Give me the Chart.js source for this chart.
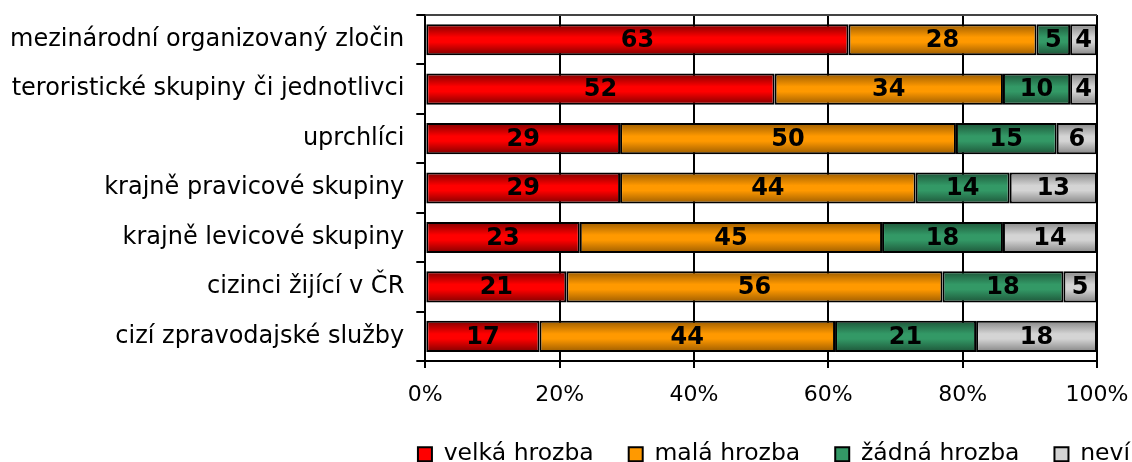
<!DOCTYPE html>
<html>
<head>
<meta charset="utf-8">
<script src="https://cdn.jsdelivr.net/npm/chart.js@4"></script>
<style>
  body { margin: 0; background: #fff; }
  #wrap { width: 1132px; height: 462px; }
</style>
</head>
<body>
<div id="wrap"><canvas id="chartContainer"></canvas></div>
<script>
// kategorie (shora dolů)
const categories = [
    'mezinárodní organizovaný zločin',
    'teroristické skupiny či jednotlivci',
    'uprchlíci',
    'krajně pravicové skupiny',
    'krajně levicové skupiny',
    'cizinci žijící v ČR',
    'cizí zpravodajské služby'
];

// hodnoty v %
const velkaHrozba = [63, 52, 29, 29, 23, 21, 17];
const malaHrozba = [28, 34, 50, 44, 45, 56, 44];
const zadnaHrozba = [5, 10, 15, 14, 18, 18, 21];
const nevi = [4, 4, 6, 13, 14, 5, 18];

const seriesNames = ['velká hrozba', 'malá hrozba', 'žádná hrozba', 'neví'];
const xTicks = [0, 20, 40, 60, 80, 100];

// barvy: střed a okraj (přechod)
const colors = [
    { mid: '#ff0000', edge: '#800000' },
    { mid: '#ff9900', edge: '#9c5c00' },
    { mid: '#339966', edge: '#1d5539' },
    { mid: '#d4d4d4', edge: '#858585' }
];

const catPct = 0.63;
const FONT = "'DejaVu Sans', Verdana, sans-serif";

// svislý přechod pro každý pruh
function barGradient(ctx, c) {
    const chart = ctx.chart;
    const y = chart.scales.y;
    if (!chart.chartArea || !y || ctx.dataIndex === undefined) return c.mid;
    const center = y.getPixelForValue(ctx.dataIndex);
    const half = (y.height / categories.length) * catPct / 2;
    const g = chart.ctx.createLinearGradient(0, center - half, 0, center + half);
    g.addColorStop(0, c.edge);
    g.addColorStop(0.42, c.mid);
    g.addColorStop(0.58, c.mid);
    g.addColorStop(1, c.edge);
    return g;
}

// popisky hodnot uvnitř pruhů
const valueLabels = {
    id: 'valueLabels',
    afterDatasetsDraw(chart) {
        const ctx = chart.ctx;
        ctx.save();
        ctx.font = 'bold 24px ' + FONT;
        ctx.fillStyle = '#000';
        ctx.textAlign = 'center';
        ctx.textBaseline = 'middle';
        chart.data.datasets.forEach((ds, i) => {
            const meta = chart.getDatasetMeta(i);
            meta.data.forEach((el, j) => {
                const cx = (el.x + el.base) / 2;
                ctx.fillText(ds.data[j], cx, el.y + 1);
            });
        });
        ctx.restore();
    }
};

// horní okraj plochy grafu
const topBorder = {
    id: 'topBorder',
    afterDraw(chart) {
        const a = chart.chartArea;
        const ctx = chart.ctx;
        ctx.save();
        ctx.strokeStyle = '#444';
        ctx.lineWidth = 2;
        ctx.beginPath();
        ctx.moveTo(a.left, a.top);
        ctx.lineTo(a.right, a.top);
        ctx.stroke();
        ctx.restore();
    }
};

// legenda zarovnaná k pravému okraji obrázku
const legendShift = {
    id: 'legendShift',
    beforeDraw(chart) {
        const lg = chart.legend;
        if (!lg) return;
        lg.right = chart.width - 2 + lg.options.labels.padding;
    }
};

const allSeries = [velkaHrozba, malaHrozba, zadnaHrozba, nevi];
const datasets = allSeries.map((data, i) => ({
    label: seriesNames[i],
    data: data,
    backgroundColor: ctx => barGradient(ctx, colors[i]),
    borderColor: '#000',
    borderWidth: 2,
    borderSkipped: false,
    categoryPercentage: catPct,
    barPercentage: 1
}));

Chart.defaults.font.family = FONT;
Chart.defaults.color = '#000';

new Chart(document.getElementById('chartContainer'), {
    type: 'bar',
    data: { labels: categories, datasets: datasets },
    plugins: [valueLabels, topBorder, legendShift],
    options: {
        indexAxis: 'y',
        responsive: true,
        maintainAspectRatio: false,
        animation: false,
        layout: { padding: { top: 15, right: 35, left: -2, bottom: -14 } },
        scales: {
            x: {
                stacked: true,
                min: 0,
                max: 100,
                afterBuildTicks: axis => { axis.ticks = xTicks.map(v => ({ value: v })); },
                afterFit: axis => {
                    axis.paddingLeft = 0;
                    axis.paddingRight = 0;
                    axis.height -= 15;
                },
                ticks: {
                    font: { size: 22 },
                    padding: 14,
                    maxRotation: 0,
                    callback: v => v + '%'
                },
                grid: { color: '#000', lineWidth: 2, tickLength: 7 },
                border: { color: '#000', width: 2 }
            },
            y: {
                stacked: true,
                afterFit: axis => {
                    axis.paddingTop = 0;
                    axis.paddingBottom = 0;
                },
                ticks: { font: { size: 24 }, padding: 12 },
                grid: { drawOnChartArea: false, color: '#000', lineWidth: 2, tickLength: 9 },
                border: { color: '#000', width: 2 }
            }
        },
        plugins: {
            tooltip: { enabled: false },
            legend: {
                position: 'bottom',
                align: 'end',
                labels: {
                    font: { size: 23.5 },
                    boxWidth: 14,
                    boxHeight: 14,
                    padding: 35,
                    generateLabels: chart => seriesNames.map((name, i) => ({
                        text: name,
                        fillStyle: colors[i].mid,
                        strokeStyle: '#000',
                        lineWidth: 2,
                        fontColor: '#000',
                        datasetIndex: i
                    }))
                }
            }
        }
    }
});
</script>
</body>
</html>
